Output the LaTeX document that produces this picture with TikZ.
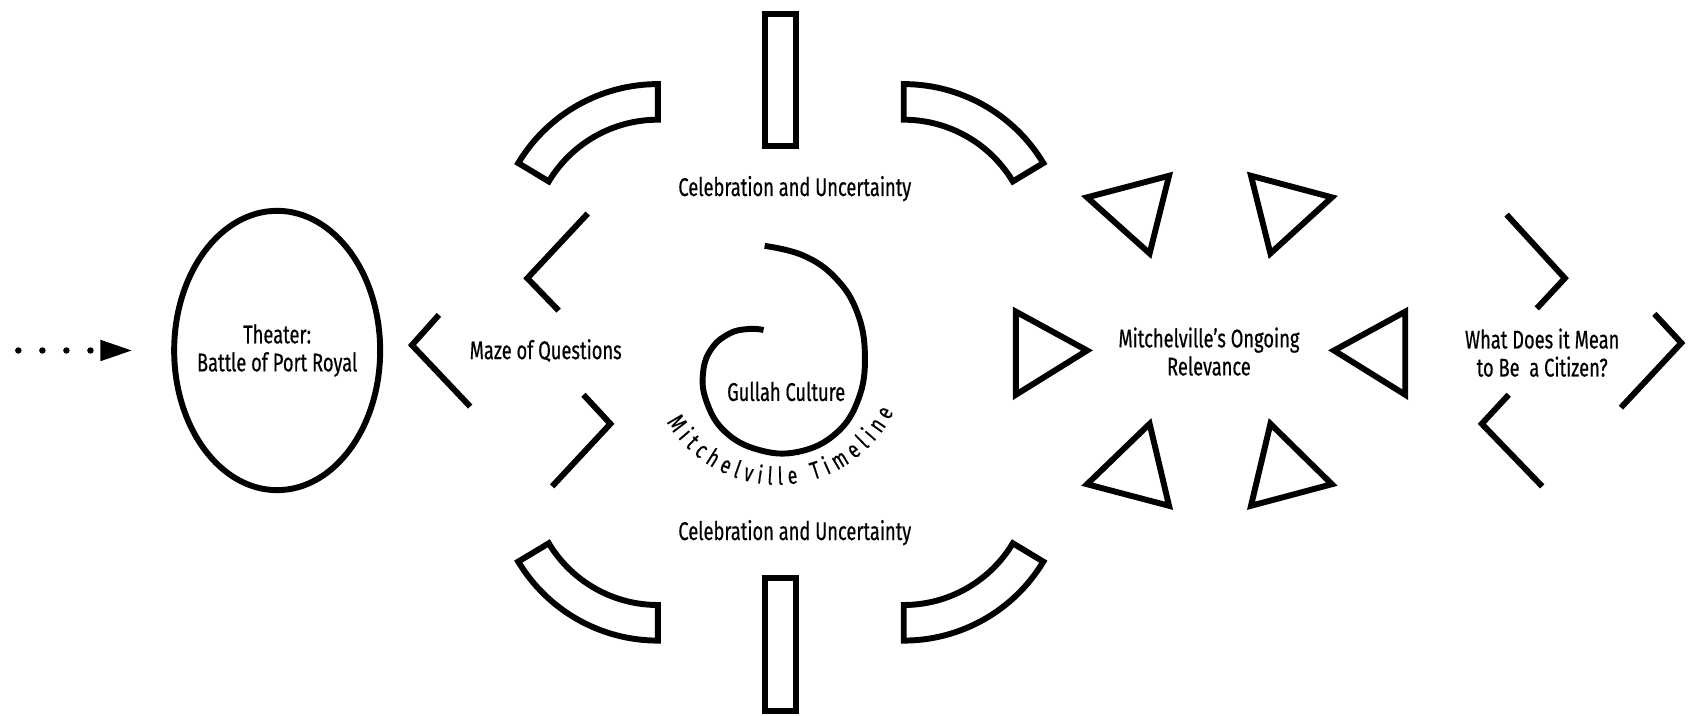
\documentclass[tikz,border=0pt]{standalone}
\usepackage{fontspec}
\setmainfont{Fira Sans}[FakeStretch=0.715, FakeBold=0.5]
\usetikzlibrary{shapes.geometric,arrows.meta,decorations.text}

\newcommand\timelinefont{\fontsize{13}{15}\selectfont}
\tikzset{
  outline/.style={draw, line width=0.11cm, line join=miter},
  lbltext/.style={font=\fontsize{13.5}{14.8}\selectfont, align=center, inner sep=0pt},
  dotarrow/.style={line width=0.12cm, line cap=round, dash pattern=on 0pt off 0.446cm,
    -{Triangle[length=0.58cm,width=0.4cm,line width=0pt]}},
}

\begin{document}
\begin{tikzpicture}[x=0.02cm, y=0.02cm]
      \useasboundingbox (0,0) rectangle (1568,663) ;
      % entry
      \coordinate (arrowstart) at (17,338) ;
      \coordinate (arrowtip) at (122,338) ;
      \node[lbltext] (theater) at (257,338) {Theater:\\Battle of Port Royal} ;
      \draw[outline] (theater) ellipse [x radius=95.5, y radius=129.5] ;
      \draw[dotarrow] (arrowstart) -- (arrowtip) ;
      % maze
      \node[lbltext] (maze) at (506,338) {Maze of Questions} ;
      \draw[outline] (407,371) -- (382,343) -- (436,286) ;
      \draw[outline] (545,465) -- (489,405) -- (518,375) ;
      \draw[outline] (541,297) -- (566,270) -- (512,212) ;
      % timeline ring
      \coordinate (ring) at (724,327) ;
      \foreach \sx/\sy in {1/1,-1/1,1/-1,-1/-1}
        \draw[outline, shift={(ring)}, xscale=\sx, yscale=\sy]
          (-114,258) arc[start angle=90, end angle=149, radius=151]
          -- (-215.15,167.77) arc[start angle=149, end angle=90, radius=118]
          -- cycle ;
      \draw[outline] (709,528) rectangle (738.5,650) ;
      \draw[outline] (709,4) rectangle (738.5,127) ;
      \node[lbltext] (celebtop) at (737,488) {Celebration and Uncertainty} ;
      \node[lbltext] (celebbot) at (737,169) {Celebration and Uncertainty} ;
      % spiral
      \draw[outline, line join=round] plot[smooth, tension=0.7] coordinates {
        (709,435) (745,426) (775,405) (795,373) (802,333) (796,293) (775,261)
        (740,244) (703,246) (672,263) (655,291) (652,318) (660,340) (677,354)
        (695,358) (708,357)} ;
      \node[lbltext] (gullah) at (729,300) {Gullah Culture} ;
      \path[decorate, decoration={text along path,
          text={|\timelinefont|Mitchelville Timeline}, text align=fit to path}]
        (721,333.5) ++(211:120) arc[start angle=211, end angle=334, radius=120] ;
      % relevance
      \node[lbltext] (relevance) at (1121,337) {Mitchelville’s Ongoing\\Relevance} ;
      \draw[outline] (1008,480) -- (1084,500) -- (1066,428) -- cycle ;
      \draw[outline] (1160,500) -- (1235,480) -- (1178,428) -- cycle ;
      \draw[outline] (942,374) -- (1008,338) -- (942,297) -- cycle ;
      \draw[outline] (1303,374) -- (1237,338) -- (1303,297) -- cycle ;
      \draw[outline] (1066,270) -- (1084,194) -- (1008,214) -- cycle ;
      \draw[outline] (1178,270) -- (1235,214) -- (1160,194) -- cycle ;
      % citizen
      \node[lbltext] (citizen) at (1430,336) {What Does it Mean\\to Be~ a Citizen?} ;
      \draw[outline] (1397,464) -- (1451,405) -- (1425,377) ;
      \draw[outline] (1399,297) -- (1374,270) -- (1430,212) ;
      \draw[outline] (1534,372) -- (1559,345) -- (1503,285) ;
\end{tikzpicture}
\end{document}
